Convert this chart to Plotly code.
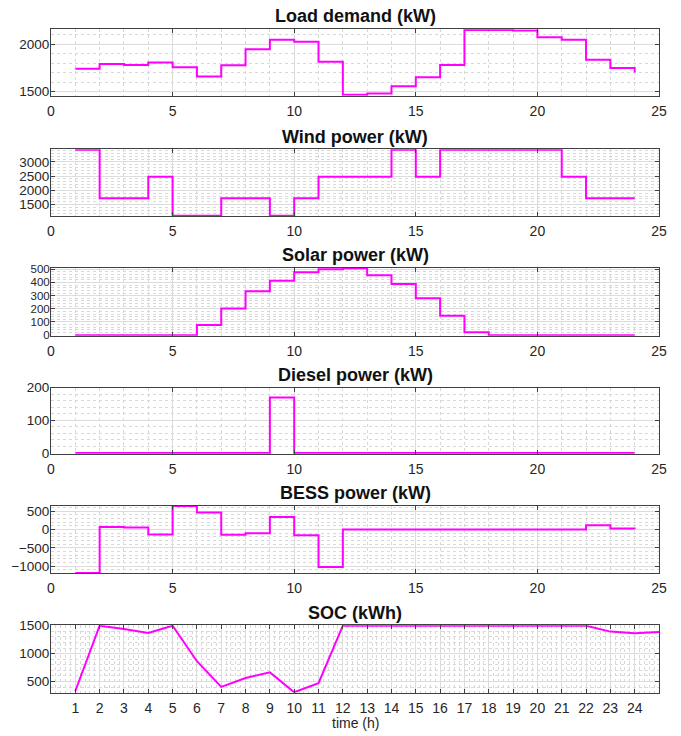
import plotly.graph_objects as go

hours = list(range(1, 25))
soc_hours = list(range(1, 26))

load_demand = [1740, 1792, 1780, 1808, 1758, 1660, 1777, 1945, 2046, 2026, 1815, 1468,
               1482, 1557, 1652, 1780, 2148, 2148, 2144, 2072, 2046, 1836, 1748, 1702]
wind_power = [3430, 1720, 1720, 2480, 1105, 1105, 1720, 1720, 1105, 1720, 2480, 2480,
              2480, 3430, 2480, 3430, 3430, 3430, 3430, 3430, 2480, 1720, 1720, 1720]
solar_power = [0, 0, 0, 0, 0, 78, 202, 333, 413, 478, 500, 508,
               455, 388, 280, 148, 22, 0, 0, 0, 0, 0, 0, 0]
diesel_power = [0, 0, 0, 0, 0, 0, 0, 0, 170, 0, 0, 0,
                0, 0, 0, 0, 0, 0, 0, 0, 0, 0, 0, 0]
bess_power = [-1185, 70, 55, -135, 640, 460, -145, -100, 340, -160, -1020, 0,
              0, 0, 0, 0, 0, 0, 0, 0, 0, 115, 25, 15]
soc = [330, 1500, 1441, 1371, 1500, 864, 405, 564, 664, 308, 470, 1500,
       1500, 1500, 1500, 1500, 1500, 1500, 1500, 1500, 1500, 1500, 1394, 1365, 1389]

titles = ["Load demand (kW)", "Wind power (kW)", "Solar power (kW)",
          "Diesel power (kW)", "BESS power (kW)", "SOC (kWh)"]
y_ticks = [[1500, 2000], [1500, 2000, 2500, 3000], [0, 100, 200, 300, 400, 500],
           [0, 100, 200], [-1000, -500, 0, 500], [500, 1000, 1500]]
y_ranges = [[1458, 2156], [1090, 3442], [-4, 512], [-2, 200], [-1195, 648], [300, 1507]]
y_minor = [100, 100, 20, 20, 100, 100]
x_ticks_main = [0, 5, 10, 15, 20, 25]
x_ticks_soc = list(range(1, 25))

# layout geometry (page pixels)
W, H = 681, 736
boxes = [(29.3, 95.7), (149.3, 216.3), (267.7, 335.7), (387.7, 453.7), (505.7, 573.3), (625.3, 692.7)]
BOX_L, BOX_R = 51, 659
y_font = [13.5, 13.5, 11.5, 13.5, 13.5, 13.5]

MAG = "#FF00FF"
AXC = "#404040"
FONT = "Liberation Sans, Arial, sans-serif"

fig = go.Figure()
series = [load_demand, wind_power, solar_power, diesel_power, bess_power]
for i, s in enumerate(series):
    fig.add_trace(go.Scatter(x=hours, y=s, mode="lines", line=dict(color=MAG, width=2, shape="hv"),
                             xaxis=f"x{i+1}", yaxis=f"y{i+1}", showlegend=False, hoverinfo="skip"))
fig.add_trace(go.Scatter(x=soc_hours, y=soc, mode="lines", line=dict(color=MAG, width=2),
                         xaxis="x6", yaxis="y6", showlegend=False, hoverinfo="skip"))

layout = dict(width=W, height=H,
              margin=dict(l=BOX_L, r=W - BOX_R, t=0, b=0, pad=0, autoexpand=False),
              paper_bgcolor="white", plot_bgcolor="white", showlegend=False,
              font=dict(family=FONT, size=14, color="#262626"))
annotations = []
for i in range(6):
    top, bot = boxes[i]
    dom = [1 - bot / H, 1 - top / H]
    soc_axis = (i == 5)
    xa = dict(domain=[0, 1], anchor=f"y{i+1}", range=[0, 25], automargin=False,
              tickvals=x_ticks_soc if soc_axis else x_ticks_main, ticklabelstandoff=2,
              ticks="inside", ticklen=4, tickcolor=AXC, showline=True, linecolor=AXC, linewidth=1,
              mirror="ticks", showgrid=True, gridcolor="#dcdcdc", gridwidth=1, zeroline=False,
              tickfont=dict(family=FONT, size=14, color="#262626"),
              minor=dict(dtick=0.2 if soc_axis else 1, tick0=0, showgrid=True, gridcolor="#d8d8d8",
                         griddash="dot", gridwidth=1, ticks=""))
    ya = dict(domain=dom, anchor=f"x{i+1}", range=y_ranges[i], tickvals=y_ticks[i], automargin=False,
              ticklabelstandoff=-2,
              ticks="inside", ticklen=4, tickcolor=AXC, showline=True, linecolor=AXC, linewidth=1,
              mirror="ticks", showgrid=True, gridcolor="#dcdcdc", gridwidth=1, zeroline=False,
              tickfont=dict(family=FONT, size=y_font[i], color="#262626"),
              minor=dict(dtick=y_minor[i], tick0=0, showgrid=True, gridcolor="#d8d8d8",
                         griddash="dot", gridwidth=1, ticks=""))
    key = "" if i == 0 else str(i + 1)
    layout[f"xaxis{key}"] = xa
    layout[f"yaxis{key}"] = ya
    annotations.append(dict(text=f"<b>{titles[i]}</b>", x=0.5, y=1 - (top - 12.8) / H,
                            xref="paper", yref="paper", xanchor="center", yanchor="middle",
                            showarrow=False, font=dict(family=FONT, size=18, color="#111111")))
annotations.append(dict(text="time (h)", x=0.5, y=1 - 723 / H, xref="paper", yref="paper",
                        xanchor="center", yanchor="middle", showarrow=False,
                        font=dict(family=FONT, size=14, color="#262626")))
layout["annotations"] = annotations
fig.update_layout(**layout)

fig.write_html("out.html", config={"displayModeBar": False},
               post_script="document.body.style.margin='0';document.body.style.overflow='hidden';")
